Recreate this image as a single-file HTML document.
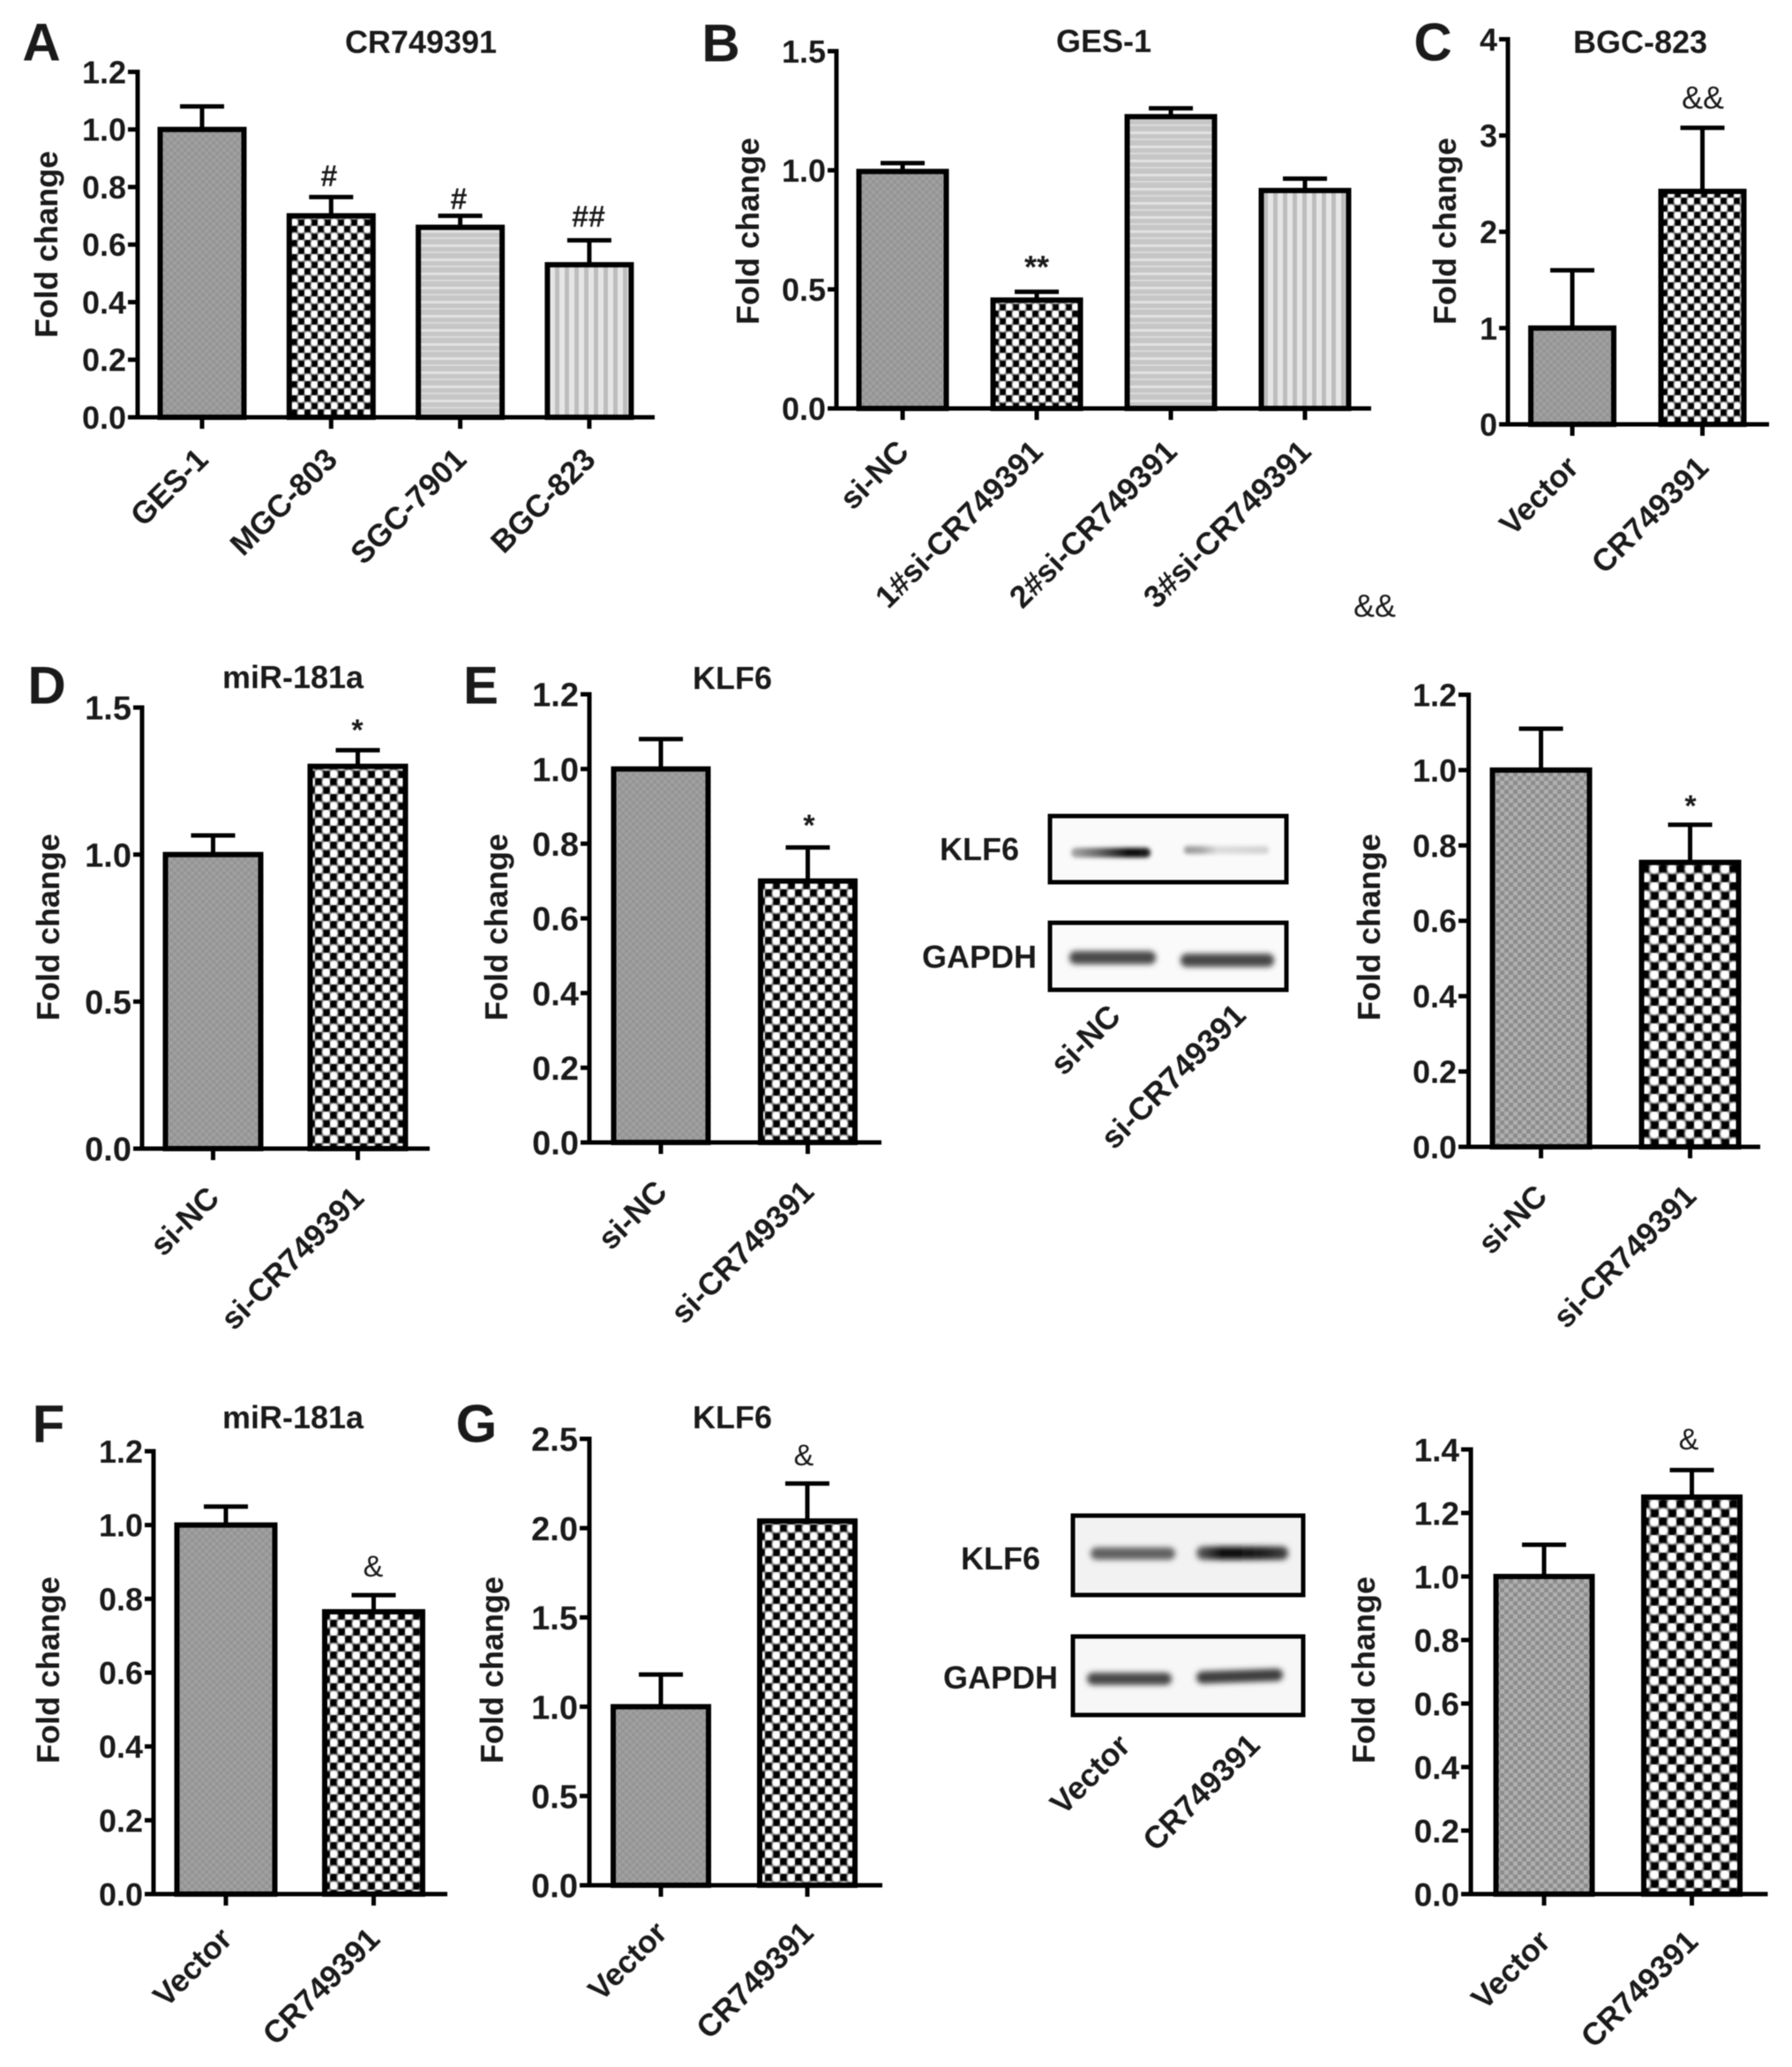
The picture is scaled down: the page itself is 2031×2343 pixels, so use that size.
<!DOCTYPE html>
<html lang="en">
<head>
<meta charset="utf-8">
<title>CR749391 fold change figure</title>
<style>
html,body{margin:0;padding:0;background:#fff;}
svg{display:block;filter:blur(0.6px);}
text{font-family:"Liberation Sans",Arial,sans-serif;font-weight:bold;fill:#1a1a1a;}
.blot-box{fill:#fafafa;stroke:#000;stroke-width:5;}
</style>
</head>
<body>
<svg id="figure" xmlns="http://www.w3.org/2000/svg" width="2031" height="2343" viewBox="0 0 2031 2343">
<defs id="defs">
  <filter id="bandBlur" x="-20%" y="-100%" width="140%" height="300%"><feGaussianBlur stdDeviation="3.2"/></filter>
  <filter id="bandBlurSmall" x="-20%" y="-100%" width="140%" height="300%"><feGaussianBlur stdDeviation="2.4"/></filter>
  <linearGradient id="bandE1"><stop offset="0" stop-color="#aaa"/><stop offset="0.35" stop-color="#666"/><stop offset="0.75" stop-color="#050505"/><stop offset="1" stop-color="#222"/></linearGradient>
  <linearGradient id="bandE2"><stop offset="0" stop-color="#999"/><stop offset="0.2" stop-color="#a5a5a5"/><stop offset="0.4" stop-color="#ddd"/><stop offset="1" stop-color="#d2d2d2"/></linearGradient>
  <linearGradient id="bandG2"><stop offset="0" stop-color="#666"/><stop offset="0.3" stop-color="#050505"/><stop offset="0.75" stop-color="#222"/><stop offset="1" stop-color="#444"/></linearGradient>
</defs>

<g>
  <text x="1110" y="975" font-size="36" text-anchor="middle">KLF6</text>
  <text x="1110" y="1097" font-size="36" text-anchor="middle">GAPDH</text>
  <rect class="blot-box" x="1190" y="925" width="268" height="75"/>
  <rect class="blot-box" x="1190" y="1046" width="268" height="76"/>
  <rect x="1214" y="961" width="90" height="11" rx="5" fill="url(#bandE1)" filter="url(#bandBlurSmall)"/>
  <rect x="1342" y="959" width="96" height="9" rx="4" fill="url(#bandE2)" filter="url(#bandBlurSmall)"/>
  <rect x="1212" y="1078" width="98" height="15" rx="7" fill="#4a4a4a" filter="url(#bandBlur)"/>
  <rect x="1338" y="1081" width="106" height="15" rx="7" fill="#464646" filter="url(#bandBlur)"/>
  <text transform="translate(1272,1154) rotate(-45)" font-size="36" text-anchor="end">si-NC</text>
  <text transform="translate(1414,1153) rotate(-45)" font-size="36" text-anchor="end">si-CR749391</text>
</g>

<g>
  <text x="1134" y="1779" font-size="36" text-anchor="middle">KLF6</text>
  <text x="1134" y="1914" font-size="36" text-anchor="middle">GAPDH</text>
  <rect class="blot-box" x="1216" y="1718" width="261" height="90" style="fill:#f2f2f2"/>
  <rect class="blot-box" x="1216" y="1855" width="261" height="89" style="fill:#f7f7f7"/>
  <rect x="1236" y="1754" width="96" height="14" rx="7" fill="#616161" filter="url(#bandBlur)"/>
  <rect x="1356" y="1753" width="104" height="15" rx="7" fill="url(#bandG2)" filter="url(#bandBlur)"/>
  <rect x="1232" y="1896" width="96" height="14" rx="7" fill="#474747" filter="url(#bandBlur)"/>
  <rect x="1356" y="1893" width="98" height="14" rx="7" fill="#3c3c3c" filter="url(#bandBlur)" transform="rotate(-2 1405 1900)"/>
  <text transform="translate(1283,1981) rotate(-45)" font-size="36" text-anchor="end">Vector</text>
  <text transform="translate(1430,1980) rotate(-45)" font-size="35.5" text-anchor="end">CR749391</text>
</g>
<g id="charts"></g>
<g id="annotations"></g>
</svg>

<script>
const panelACategories = ['GES-1','MGC-803','SGC-7901','BGC-823'];
const panelAValues = [1.0,0.70,0.66,0.53];
const panelAErrorTops = [1.08,0.765,0.70,0.615];
const panelATicks = ['0.0','0.2','0.4','0.6','0.8','1.0','1.2'];

const panelBCategories = ['si-NC','1#si-CR749391','2#si-CR749391','3#si-CR749391'];
const panelBValues = [0.995,0.455,1.225,0.915];
const panelBErrorTops = [1.03,0.49,1.26,0.965];
const panelBTicks = ['0.0','0.5','1.0','1.5'];

const panelCCategories = ['Vector','CR749391'];
const panelCValues = [1.0,2.42];
const panelCErrorTops = [1.6,3.08];
const panelCTicks = ['0','1','2','3','4'];

const panelDCategories = ['si-NC','si-CR749391'];
const panelDValues = [1.0,1.30];
const panelDErrorTops = [1.065,1.355];
const panelDTicks = ['0.0','0.5','1.0','1.5'];

const panelECategories = ['si-NC','si-CR749391'];
const panelEValues = [1.0,0.70];
const panelEErrorTops = [1.08,0.79];
const panelETicks = ['0.0','0.2','0.4','0.6','0.8','1.0','1.2'];

const panelEBlotCategories = ['si-NC','si-CR749391'];
const panelEBlotValues = [1.0,0.755];
const panelEBlotErrorTops = [1.11,0.855];
const panelEBlotTicks = ['0.0','0.2','0.4','0.6','0.8','1.0','1.2'];

const panelFCategories = ['Vector','CR749391'];
const panelFValues = [1.0,0.765];
const panelFErrorTops = [1.05,0.81];
const panelFTicks = ['0.0','0.2','0.4','0.6','0.8','1.0','1.2'];

const panelGCategories = ['Vector','CR749391'];
const panelGValues = [1.0,2.04];
const panelGErrorTops = [1.18,2.25];
const panelGTicks = ['0.0','0.5','1.0','1.5','2.0','2.5'];

const panelGBlotCategories = ['Vector','CR749391'];
const panelGBlotValues = [1.0,1.25];
const panelGBlotErrorTops = [1.10,1.335];
const panelGBlotTicks = ['0.0','0.2','0.4','0.6','0.8','1.0','1.2','1.4'];

const NS = 'http://www.w3.org/2000/svg';
const defs = document.getElementById('defs');
const chartsRoot = document.getElementById('charts');
const annotationsRoot = document.getElementById('annotations');

function make(tag, attrs, parent) {
  const el = document.createElementNS(NS, tag);
  for (const k in attrs) el.setAttribute(k, attrs[k]);
  parent.appendChild(el);
  return el;
}

function softDot(id, color) {
  const g = make('radialGradient', {id: id}, defs);
  make('stop', {offset: '0', 'stop-color': color, 'stop-opacity': '1'}, g);
  make('stop', {offset: '0.55', 'stop-color': color, 'stop-opacity': '1'}, g);
  make('stop', {offset: '1', 'stop-color': color, 'stop-opacity': '0'}, g);
}
softDot('dotDark', '#000');
softDot('dotLight', '#fff');

function checkerPattern(id, cw, ch, base, dark, light) {
  const p = make('pattern', {id: id, patternUnits: 'userSpaceOnUse', width: 2 * cw, height: 2 * ch}, defs);
  make('rect', {width: 2 * cw, height: 2 * ch, fill: base}, p);
  const r = 0.72;
  [[0.5, 0.5, dark], [1.5, 1.5, dark], [1.5, 0.5, light], [0.5, 1.5, light]].forEach(function (c) {
    make('ellipse', {cx: c[0] * cw, cy: c[1] * ch, rx: r * cw, ry: r * ch, fill: c[2]}, p);
  });
}
checkerPattern('chk75', 7.5, 8, '#808080', 'url(#dotDark)', 'url(#dotLight)');
checkerPattern('chk85', 8.5, 9, '#808080', 'url(#dotDark)', 'url(#dotLight)');
checkerPattern('chk10', 10, 10, '#808080', 'url(#dotDark)', 'url(#dotLight)');

function grayPattern(id, c, a, b) {
  const p = make('pattern', {id: id, patternUnits: 'userSpaceOnUse', width: 2 * c, height: 2 * c}, defs);
  make('rect', {width: 2 * c, height: 2 * c, fill: a}, p);
  make('rect', {x: 0, y: 0, width: c, height: c, fill: b}, p);
  make('rect', {x: c, y: c, width: c, height: c, fill: b}, p);
}
grayPattern('gray4', 4, '#a0a0a0', '#949494');
grayPattern('gray5', 5, '#b0b0b0', '#8c8c8c');

const hp = make('pattern', {id: 'hStripes', patternUnits: 'userSpaceOnUse', width: 8, height: 16}, defs);
make('rect', {width: 8, height: 16, fill: '#c6c6c6'}, hp);
make('rect', {y: 5, width: 8, height: 3, fill: '#e2e2e2'}, hp);
make('rect', {y: 13, width: 8, height: 2, fill: '#dadada'}, hp);

const vp = make('pattern', {id: 'vStripes', patternUnits: 'userSpaceOnUse', width: 11, height: 8}, defs);
make('rect', {width: 11, height: 8, fill: '#e6e6e6'}, vp);
make('rect', {x: 2, width: 5, height: 8, fill: '#bdbdbd'}, vp);

function drawChart(cfg) {
  const g = make('g', {}, chartsRoot);
  
  

  const yMax = parseFloat(cfg.ticks[cfg.ticks.length - 1]);
  const yScale = function (v) { return cfg.base - (v / yMax) * (cfg.base - cfg.top); };
  const xScale = function (i) { return cfg.first + i * cfg.step; };

  cfg.values.forEach(function (v, i) {
    const cx = xScale(i);
    const errLine = make('line', {x1: cx, x2: cx, y1: yScale(v), y2: yScale(cfg.errs[i]), stroke: '#000', 'stroke-width': 5}, g);
    
    
    const cap = make('line', {x1: cx - 25, x2: cx + 25, y1: yScale(cfg.errs[i]), y2: yScale(cfg.errs[i]), stroke: '#000', 'stroke-width': 5}, g);
    
    
    const bar = make('rect', {x: cx - cfg.barW / 2 + 3, y: yScale(v), width: cfg.barW - 6, height: cfg.base - yScale(v), fill: 'url(#' + cfg.fills[i] + ')', stroke: '#000', 'stroke-width': 6}, g);
    
    
    const tick = make('line', {x1: cx, x2: cx, y1: cfg.base, y2: cfg.base + 13, stroke: '#000', 'stroke-width': 5}, g);
    
    
    const ex = cx + 9;
    const ey = cfg.base + cfg.labelDy;
    const lab = make('text', {transform: 'translate(' + ex + ',' + ey + ') rotate(-45)', 'font-size': 35.5, 'text-anchor': 'end'}, g);
    lab.textContent = cfg.categories[i];
    
    
  });

  const yAxis = make('line', {x1: cfg.axisX, x2: cfg.axisX, y1: cfg.top - 2.5, y2: cfg.base, stroke: '#000', 'stroke-width': 5}, g);
  
  
  const xAxis = make('line', {x1: cfg.xStart, x2: cfg.xEnd, y1: cfg.base, y2: cfg.base, stroke: '#000', 'stroke-width': 5}, g);
  
  

  cfg.ticks.forEach(function (t) {
    const y = yScale(parseFloat(t));
    const tk = make('line', {x1: cfg.xStart, x2: cfg.axisX, y1: y, y2: y, stroke: '#000', 'stroke-width': 5}, g);
    
    
    const lb = make('text', {x: cfg.xStart - 2, y: y + 0.36 * cfg.tickSize, 'font-size': cfg.tickSize, 'text-anchor': 'end'}, g);
    lb.textContent = t;
    
    
  });

  const yt = make('text', {transform: 'translate(' + cfg.ylabelX + ',' + cfg.ylabelY + ') rotate(-90)', 'font-size': 36, 'text-anchor': 'middle', y: 12}, g);
  yt.textContent = 'Fold change';
  
  
}

drawChart({key:'a',categories:panelACategories,values:panelAValues,errs:panelAErrorTops,ticks:panelATicks,axisX:156,top:81.5,base:473,first:229,step:146.3,barW:101,xStart:145,xEnd:742,labelDy:50,tickSize:36,ylabelX:53,ylabelY:277,fills:['gray4','chk75','hStripes','vStripes']});
drawChart({key:'b',categories:panelBCategories,values:panelBValues,errs:panelBErrorTops,ticks:panelBTicks,axisX:948,top:58,base:463,first:1023,step:152,barW:105,xStart:938,xEnd:1554,labelDy:51,tickSize:36,ylabelX:848,ylabelY:262,fills:['gray4','chk75','hStripes','vStripes']});
drawChart({key:'c',categories:panelCCategories,values:panelCValues,errs:panelCErrorTops,ticks:panelCTicks,axisX:1709,top:44.5,base:481,first:1782,step:147.5,barW:100,xStart:1699,xEnd:2005,labelDy:51,tickSize:36,ylabelX:1638,ylabelY:262,fills:['gray4','chk75']});
drawChart({key:'d',categories:panelDCategories,values:panelDValues,errs:panelDErrorTops,ticks:panelDTicks,axisX:161,top:802,base:1302,first:241.5,step:164,barW:114,xStart:151,xEnd:487,labelDy:58,tickSize:38,ylabelX:55,ylabelY:1051,fills:['gray4','chk85']});
drawChart({key:'e',categories:panelECategories,values:panelEValues,errs:panelEErrorTops,ticks:panelETicks,axisX:668,top:787,base:1295,first:749,step:166.5,barW:113,xStart:658,xEnd:999,labelDy:58,tickSize:38,ylabelX:563,ylabelY:1051,fills:['gray4','chk85']});
drawChart({key:'e-blot',categories:panelEBlotCategories,values:panelEBlotValues,errs:panelEBlotErrorTops,ticks:panelEBlotTicks,axisX:1664.5,top:787.5,base:1300,first:1746.5,step:169,barW:116,xStart:1653,xEnd:1995,labelDy:58,tickSize:36,ylabelX:1552,ylabelY:1051,fills:['gray5','chk10']});
drawChart({key:'f',categories:panelFCategories,values:panelFValues,errs:panelFErrorTops,ticks:panelFTicks,axisX:174,top:1645,base:2147,first:256,step:167.5,barW:117,xStart:164,xEnd:507,labelDy:53,tickSize:36,ylabelX:55,ylabelY:1893,fills:['gray4','chk85']});
drawChart({key:'g',categories:panelGCategories,values:panelGValues,errs:panelGErrorTops,ticks:panelGTicks,axisX:668,top:1631,base:2137,first:749,step:166,barW:114,xStart:657,xEnd:1000,labelDy:56,tickSize:38,ylabelX:558,ylabelY:1893,fills:['gray4','chk85']});
drawChart({key:'g-blot',categories:panelGBlotCategories,values:panelGBlotValues,errs:panelGBlotErrorTops,ticks:panelGBlotTicks,axisX:1667,top:1643,base:2147,first:1750,step:167.5,barW:115,xStart:1656,xEnd:2003.5,labelDy:56,tickSize:37,ylabelX:1546,ylabelY:1893,fills:['gray5','chk10']});

function note(name, str, cx, cy, size, weight, lift) {
  const t = make('text', {x: cx, y: cy + lift * size, 'font-size': size, 'text-anchor': 'middle', 'font-weight': weight, style: 'font-weight:' + weight}, annotationsRoot);
  t.textContent = str;
  
  
}

note('panel-letter-a','A',47,47,60,'bold',0.36);
note('panel-letter-b','B',817,48,60,'bold',0.36);
note('panel-letter-c','C',1624,47,60,'bold',0.36);
note('panel-letter-d','D',53,776,60,'bold',0.36);
note('panel-letter-e','E',545,776,60,'bold',0.36);
note('panel-letter-f','F',55,1613,60,'bold',0.36);
note('panel-letter-g','G',540,1613,60,'bold',0.36);

note('title-a','CR749391',477,47,36,'bold',0.36);
note('title-b','GES-1',1251,46,36,'bold',0.36);
note('title-c','BGC-823',1859,47,36,'bold',0.36);
note('title-d','miR-181a',332,767,36,'bold',0.36);
note('title-e','KLF6',830,768,36,'bold',0.36);
note('title-f','miR-181a',332,1606,36,'bold',0.36);
note('title-g','KLF6',830,1606,36,'bold',0.36);

note('significance-a-mgc803','#',373,199,34,'bold',0.36);
note('significance-a-sgc7901','#',520,225,34,'bold',0.36);
note('significance-a-bgc823','##',667,245,34,'bold',0.36);
note('significance-b-si1','**',1175,295,36,'bold',0.56);
note('significance-c','&&',1930,110,36,'normal',0.36);
note('stray-ampersands','&&',1558,686,36,'normal',0.36);
note('significance-d','*',405,820,34,'bold',0.56);
note('significance-e','*',917,928,34,'bold',0.56);
note('significance-e-blot','*',1916,906,34,'bold',0.56);
note('significance-f','&',423,1775,34,'normal',0.36);
note('significance-g','&',911,1649,34,'normal',0.36);
note('significance-g-blot','&',1914,1631,34,'normal',0.36);
</script>
</body>
</html>
